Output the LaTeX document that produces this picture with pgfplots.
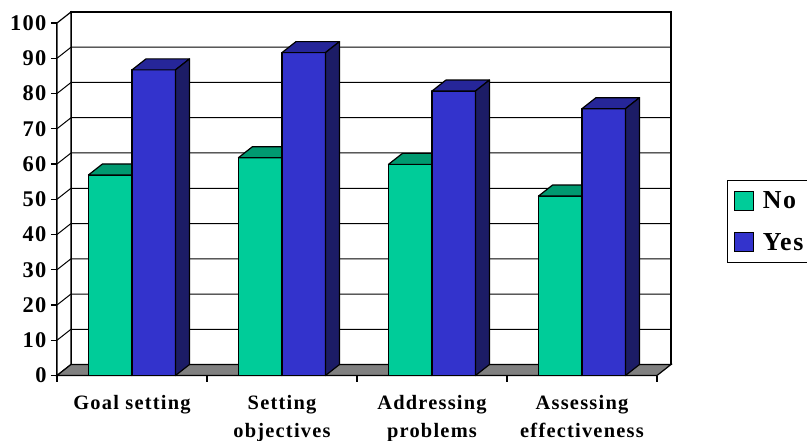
\documentclass[border=0pt]{standalone}
\usepackage{pgfplots}
\pgfplotsset{compat=1.18}
\usepackage{fontspec}
\setmainfont{Liberation Serif}[LetterSpace=6]
\definecolor{nofront}{RGB}{0,204,153}
\definecolor{notop}{RGB}{0,153,112}
\definecolor{noside}{RGB}{0,102,76}
\definecolor{yesfront}{RGB}{51,51,204}
\definecolor{yestop}{RGB}{38,38,153}
\definecolor{yesside}{RGB}{28,28,102}
\definecolor{floorgray}{RGB}{128,128,128}

% 3D bar: x0, x1, value, front, top, side colours
\newcommand{\tdbar}[6]{%
  \pgfmathsetmacro\xA{#1}%
  \pgfmathsetmacro\xB{#2}%
  \pgfmathsetmacro\xC{#2+0.0933}%
  \pgfmathsetmacro\xD{#1+0.0933}%
  \pgfmathsetmacro\yT{#3+3.12}%
  \edef\next{%
    \noexpand\addplot[forget plot, fill=#4, draw=black, line width=1.2bp, line join=round] coordinates {(\xA,0) (\xB,0) (\xB,#3) (\xA,#3)} -- cycle;%
    \noexpand\addplot[forget plot, fill=#5, draw=black, line width=1.2bp, line join=round] coordinates {(\xA,#3) (\xB,#3) (\xC,\yT) (\xD,\yT)} -- cycle;%
    \noexpand\addplot[forget plot, fill=#6, draw=black, line width=1.2bp, line join=round] coordinates {(\xB,0) (\xC,3.12) (\xC,\yT) (\xB,#3)} -- cycle;%
  }\next
}
\newcommand{\gline}[1]{%
  \pgfmathsetmacro\yG{#1+3.12}%
  \edef\next{\noexpand\addplot[forget plot, draw=black, line width=1bp] coordinates {(0,#1) (0.0933,\yG) (4.0933,\yG)};}\next
}

\begin{document}
\begin{tikzpicture}
\begin{axis}[
  at={(57bp,65.5bp)}, anchor=south west,
  scale only axis, width=600bp, height=352.5bp,
  xmin=0, xmax=4, ymin=0, ymax=100, clip=false,
  axis x line=bottom, axis y line=left,
  axis line style={-, line width=1.2bp},
  tick style={line width=1.2bp, black},
  tick align=outside, major tick length=6bp,
  ytick={0,10,...,100},
  xtick={0,1,2,3,4}, xticklabels={},
  extra x ticks={0.5,1.5,2.5,3.5},
  extra x tick labels={Goal setting,{Setting\\objectives},{Addressing\\problems},{Assessing\\effectiveness}},
  extra x tick style={tick style={draw=none}},
  /pgf/number format/assume math mode=true,
  xticklabel style={align=center, yshift=-10bp, font=\fontsize{20.5}{28}\selectfont\bfseries},
  yticklabel style={font=\fontsize{22.5}{24}\selectfont\bfseries, xshift=-1bp},
  legend style={at={(1.1167,0.5546)}, anchor=north west, draw=black, line width=1.2bp,
    font=\fontsize{26}{26}\selectfont\bfseries, inner xsep=6bp, inner ysep=8bp,
    row sep=17bp, nodes={inner sep=3bp},
    /tikz/every odd column/.append style={column sep=6bp}},
  legend cell align=left,
  legend image code/.code={\draw[#1, line width=1.2bp] (0bp,-9.5bp) rectangle (19bp,9.5bp);},
]
% walls
\addplot[forget plot, fill=white, draw=black, line width=1.2bp] coordinates {(0.0933,3.12) (4.0933,3.12) (4.0933,103.12) (0.0933,103.12)} -- cycle;
\addplot[forget plot, fill=white, draw=black, line width=1.2bp] coordinates {(0,0) (0.0933,3.12) (0.0933,103.12) (0,100)} -- cycle;
\gline{10}\gline{20}\gline{30}\gline{40}\gline{50}\gline{60}\gline{70}\gline{80}\gline{90}
% floor
\addplot[forget plot, fill=floorgray, draw=black, line width=1.2bp] coordinates {(0,0) (4,0) (4.0933,3.12) (0.0933,3.12)} -- cycle;
% bars: No, Yes
\tdbar{0.21}{0.5}{56.9}{nofront}{notop}{noside}
\tdbar{0.5}{0.79}{86.7}{yesfront}{yestop}{yesside}
\tdbar{1.21}{1.5}{61.8}{nofront}{notop}{noside}
\tdbar{1.5}{1.79}{91.6}{yesfront}{yestop}{yesside}
\tdbar{2.21}{2.5}{59.9}{nofront}{notop}{noside}
\tdbar{2.5}{2.79}{80.7}{yesfront}{yestop}{yesside}
\tdbar{3.21}{3.5}{50.9}{nofront}{notop}{noside}
\tdbar{3.5}{3.79}{75.7}{yesfront}{yestop}{yesside}
\addlegendimage{fill=nofront, draw=black}
\addlegendentry{No}
\addlegendimage{fill=yesfront, draw=black}
\addlegendentry{Yes}
\end{axis}
\pgfresetboundingbox
\path (0,0) rectangle (807bp,441bp);
\end{tikzpicture}
\end{document}
